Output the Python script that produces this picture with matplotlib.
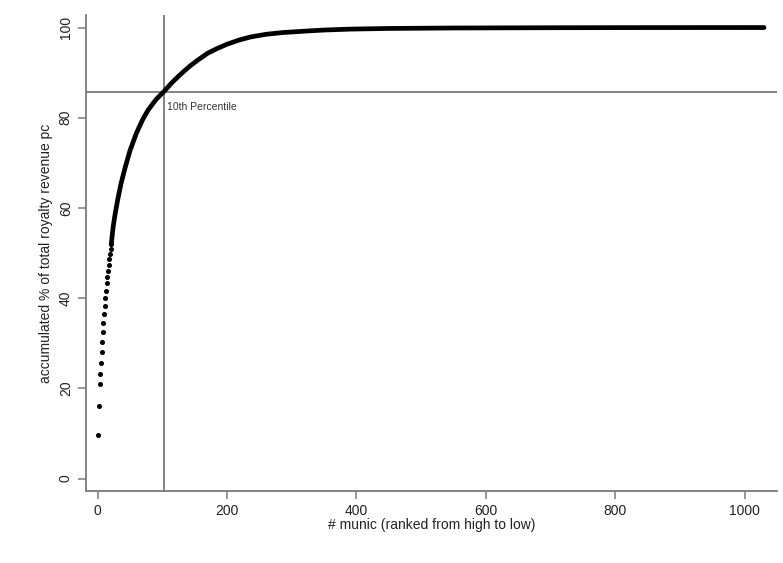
import matplotlib.pyplot as plt

plt.rcParams['font.family'] = ['Liberation Sans', 'DejaVu Sans']

# first municipalities, drawn as separate dots (rank, accumulated %)
dot_rank = list(range(1, 22))
dot_pct = [9.6, 16.0, 20.9, 23.1, 25.7, 28.1, 30.2, 32.5, 34.5, 36.4, 38.2,
           40.0, 41.6, 43.3, 44.7, 46.1, 47.4, 48.7, 49.8, 50.9, 51.9]

curve_rank = [21, 24, 27, 31, 36, 43, 50, 60, 70, 78, 90, 103, 115, 125, 135, 143,
              155, 170, 184, 200, 218, 236, 260, 287, 320, 350, 390, 450, 550, 700,
              850, 1030]
curve_pct = [51.9, 55.8, 58.6, 61.8, 65.3, 69.2, 72.7, 76.6, 79.7, 81.7, 84.0, 85.9,
             87.8, 89.2, 90.5, 91.5, 92.8, 94.3, 95.3, 96.3, 97.2, 97.9, 98.5, 98.9,
             99.2, 99.45, 99.65, 99.8, 99.9, 99.96, 99.99, 100.0]

p10_rank = 103
p10_pct = 85.7

xticks = [0, 200, 400, 600, 800, 1000]
yticks = [0, 20, 40, 60, 80, 100]

fig = plt.figure(figsize=(7.83, 5.63), dpi=100)
ax = fig.add_axes([0.1098, 0.128, 0.8825, 0.8455])

grey = '#7a7a7a'
ax.axhline(p10_pct, color=grey, lw=1.3, zorder=1)
ax.axvline(p10_rank, color=grey, lw=1.3, zorder=1)

ax.plot(dot_rank, dot_pct, 'o', color='black', ms=2.6, zorder=3)
ax.plot(curve_rank, curve_pct, '-', color='black', lw=3.4, solid_capstyle='round',
        solid_joinstyle='round', zorder=3)

ax.text(p10_rank + 4, p10_pct - 2.2, '10th Percentile', fontsize=7.5, color='#333333',
        va='top', ha='left')

ax.set_xlim(-18, 1050)
ax.set_ylim(-2.75, 102.8)
ax.set_xticks(xticks)
ax.set_yticks(yticks)
ax.set_yticklabels([str(v) for v in yticks], rotation=90, va='center')

for s in ['top', 'right']:
    ax.spines[s].set_visible(False)
for s in ['left', 'bottom']:
    ax.spines[s].set_color(grey)
    ax.spines[s].set_linewidth(1.3)
ax.tick_params(colors=grey, labelcolor='#222222', labelsize=10, length=6, width=1.1)

ax.set_xlabel('# munic (ranked from high to low)', fontsize=10, color='#222222', labelpad=0)
ax.set_ylabel('accumulated % of total royalty revenue pc', fontsize=10, color='#222222', labelpad=4)

fig.savefig('out.png', dpi=100)
